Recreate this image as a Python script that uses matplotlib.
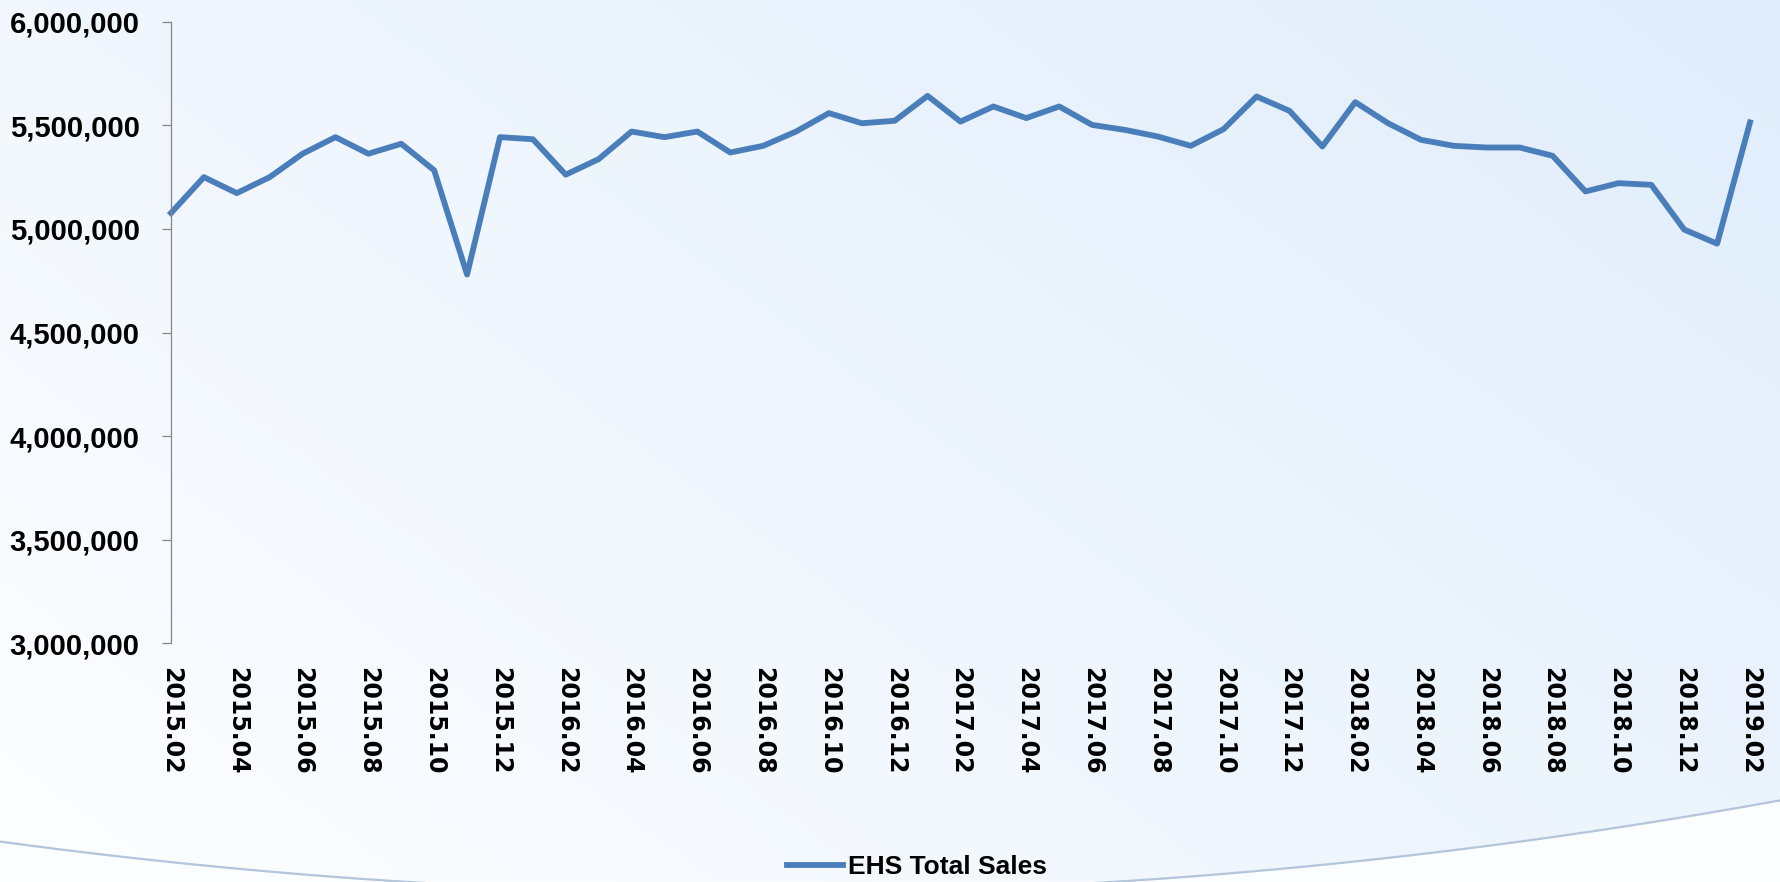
import matplotlib
matplotlib.use('Agg')
import matplotlib.pyplot as plt
from matplotlib.ticker import FuncFormatter
import numpy as np
import pandas as pd

# monthly EHS total sales, 2015.02 - 2019.02
months = list(pd.period_range('2015-02', '2019-02', freq='M').strftime('%Y.%m'))
sales = [5077000, 5250000, 5173000, 5250000, 5363000, 5443000, 5363000, 5411000,
         5283000, 4780000, 5443000, 5433000, 5262000, 5337000, 5470000, 5443000,
         5470000, 5369000, 5401000, 5470000, 5559000, 5510000, 5522000, 5642000,
         5518000, 5591000, 5535000, 5591000, 5502000, 5478000, 5446000, 5401000,
         5482000, 5639000, 5570000, 5398000, 5612000, 5510000, 5430000, 5401000,
         5393000, 5393000, 5353000, 5181000, 5221000, 5213000, 4997000, 4929000,
         5514000]
series_name = 'EHS Total Sales'

plt.rcParams['font.family'] = ['Liberation Sans', 'DejaVu Sans']
plt.rcParams['font.weight'] = 'bold'

W, H = 1781, 882
fig = plt.figure(figsize=(W / 100, H / 100), dpi=100)

# light blue gradient background with the swoosh at the bottom
bg = fig.add_axes([0, 0, 1, 1], zorder=0)
bg.set_axis_off()
gx, gy = np.meshgrid(np.linspace(0, 1, 400), np.linspace(0, 1, 200))
t = 0.6 * gx + 0.4 * gy
c0 = np.array([253, 254, 255]) / 255
c1 = np.array([224, 237, 251]) / 255
bg.imshow(c0 + (c1 - c0) * t[..., None], origin='lower', extent=[0, W, 0, H], aspect='auto')
ax_x = np.linspace(0, W, 400)
arc_y = H - (893 - 8.9e-5 * (ax_x - 760) ** 2)
bg.fill_between(ax_x, 0, arc_y, color='#fbfdff')
bg.plot(ax_x, arc_y, color='#b3c5db', lw=1.6)
bg.set_xlim(0, W)
bg.set_ylim(0, H)

# main chart
ax = fig.add_axes([171 / W, 1 - 643.5 / H, (1750 - 171) / W, (643.5 - 21.7) / H], zorder=1)
ax.patch.set_alpha(0)
ax.plot(range(len(sales)), sales, color='#4A7EBB', lw=4.2, label=series_name, clip_on=False)

ax.set_xlim(0, len(sales) - 1)
ax.set_ylim(3000000, 6000000)
ax.set_yticks(np.arange(3000000, 6000001, 500000))
ax.yaxis.set_major_formatter(FuncFormatter(lambda v, p: '{:,.0f}'.format(v)))
ax.set_xticks(range(0, len(months), 2))
ax.set_xticklabels(months[::2], rotation=-90, fontfamily='DejaVu Sans',
                   fontweight='bold', fontsize=17)

for s in ['top', 'right', 'bottom']:
    ax.spines[s].set_visible(False)
ax.spines['left'].set_color('#868686')
ax.spines['left'].set_linewidth(0.9)
ax.tick_params(axis='y', length=6.5, width=0.9, color='#868686', pad=16, labelsize=21)
ax.tick_params(axis='x', length=0, pad=17)

ax.legend(loc='center', bbox_to_anchor=(917 / W, 1 - 867 / H), bbox_transform=fig.transFigure,
          frameon=False, handlelength=2.1, handletextpad=0.2,
          prop={'family': 'Liberation Sans', 'weight': 'bold', 'size': 19})

fig.savefig('out.png', dpi=100)
